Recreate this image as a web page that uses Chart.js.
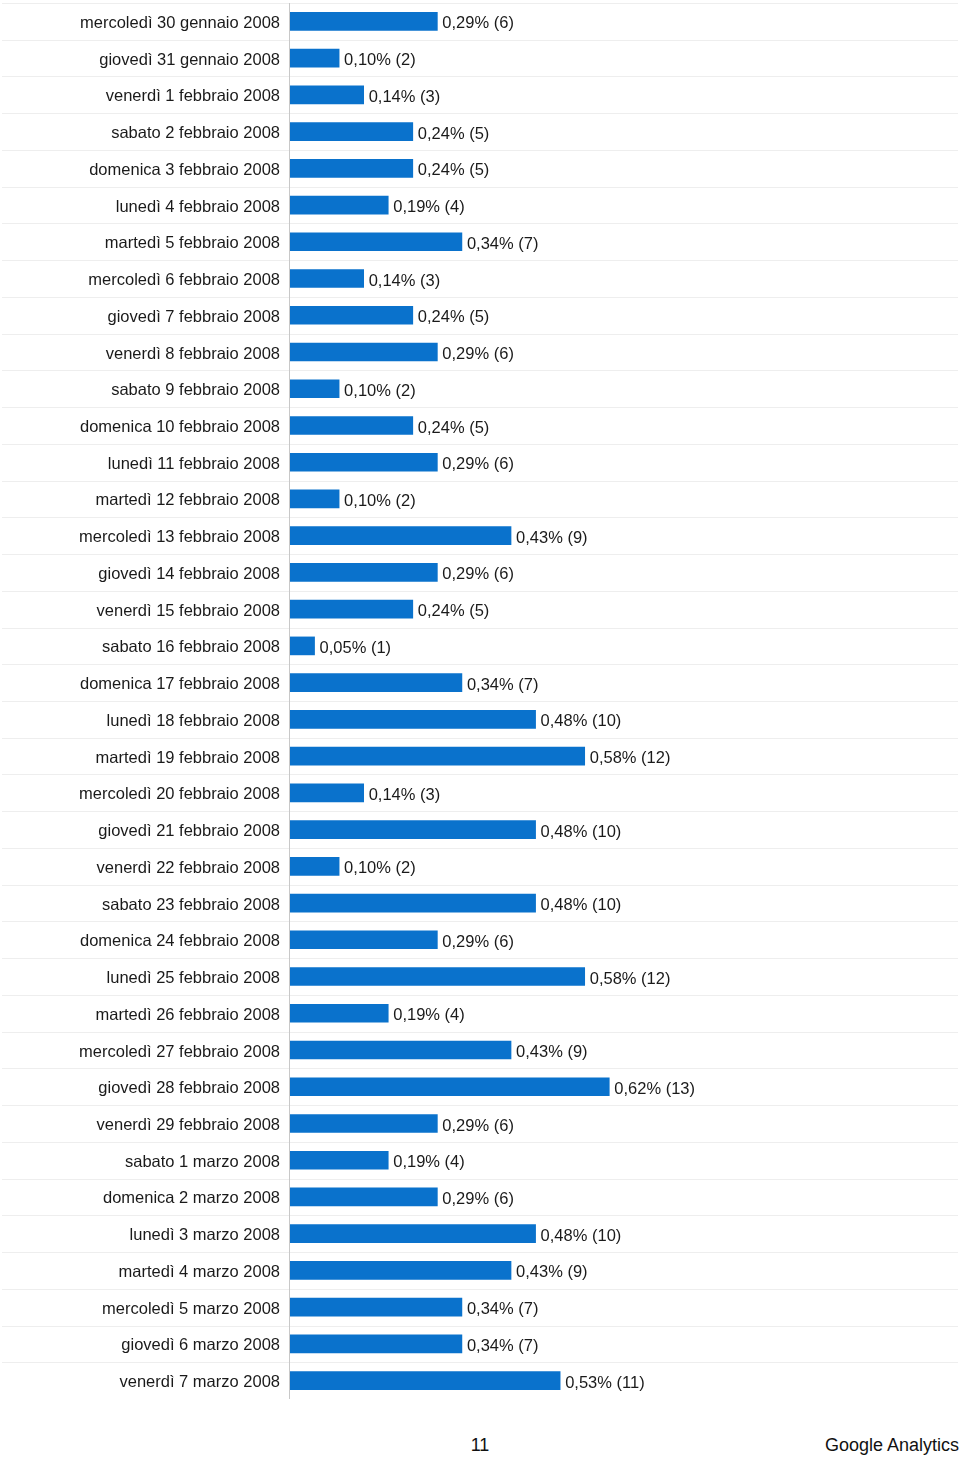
<!DOCTYPE html>
<html>
<head>
<meta charset="utf-8">
<script src="https://cdn.jsdelivr.net/npm/chart.js@4/dist/chart.umd.min.js"></script>
<style>
html,body{margin:0;padding:0;background:#fff;}
body{width:960px;height:1458px;position:relative;overflow:hidden;font-family:"Liberation Sans",Arial,sans-serif;}
#wrap{position:absolute;left:0;top:0;width:960px;height:1402px;}
.foot{position:absolute;top:1433px;font-size:18px;color:#111;line-height:24px;}
</style>
</head>
<body>
<div id="wrap"><canvas id="c"></canvas></div>
<div class="foot" style="left:460px;width:40px;text-align:center;">11</div>
<div class="foot" style="right:1px;">Google Analytics</div>
<script>
const categories = [
"mercoledì 30 gennaio 2008","giovedì 31 gennaio 2008","venerdì 1 febbraio 2008","sabato 2 febbraio 2008",
"domenica 3 febbraio 2008","lunedì 4 febbraio 2008","martedì 5 febbraio 2008","mercoledì 6 febbraio 2008",
"giovedì 7 febbraio 2008","venerdì 8 febbraio 2008","sabato 9 febbraio 2008","domenica 10 febbraio 2008",
"lunedì 11 febbraio 2008","martedì 12 febbraio 2008","mercoledì 13 febbraio 2008","giovedì 14 febbraio 2008",
"venerdì 15 febbraio 2008","sabato 16 febbraio 2008","domenica 17 febbraio 2008","lunedì 18 febbraio 2008",
"martedì 19 febbraio 2008","mercoledì 20 febbraio 2008","giovedì 21 febbraio 2008","venerdì 22 febbraio 2008",
"sabato 23 febbraio 2008","domenica 24 febbraio 2008","lunedì 25 febbraio 2008","martedì 26 febbraio 2008",
"mercoledì 27 febbraio 2008","giovedì 28 febbraio 2008","venerdì 29 febbraio 2008","sabato 1 marzo 2008",
"domenica 2 marzo 2008","lunedì 3 marzo 2008","martedì 4 marzo 2008","mercoledì 5 marzo 2008",
"giovedì 6 marzo 2008","venerdì 7 marzo 2008"
];
const counts = [6,2,3,5,5,4,7,3,5,6,2,5,6,2,9,6,5,1,7,10,12,3,10,2,10,6,12,4,9,13,6,4,6,10,9,7,7,11];
const percents = [0.29,0.10,0.14,0.24,0.24,0.19,0.34,0.14,0.24,0.29,0.10,0.24,0.29,0.10,0.43,0.29,0.24,0.05,0.34,0.48,
0.58,0.14,0.48,0.10,0.48,0.29,0.58,0.19,0.43,0.62,0.29,0.19,0.29,0.48,0.43,0.34,0.34,0.53];

const FONT = '"Liberation Sans", Arial, sans-serif';

const decor = {
  id: 'decor',
  beforeDatasetsDraw(chart) {
    const ctx = chart.ctx, y = chart.scales.y, a = chart.chartArea;
    ctx.save();
    ctx.strokeStyle = '#eeeeee';
    ctx.lineWidth = 1;
    const n = categories.length;
    const step = (a.bottom - a.top) / n;
    for (let i = 0; i < n; i++) {
      const yy = Math.round(y.getPixelForValue(i) - step / 2) + 0.5;
      ctx.beginPath(); ctx.moveTo(2, yy); ctx.lineTo(958, yy); ctx.stroke();
    }
    ctx.strokeStyle = '#c8c8c8';
    ctx.beginPath(); ctx.moveTo(a.left - 0.5, a.top); ctx.lineTo(a.left - 0.5, a.bottom); ctx.stroke();
    // category labels
    ctx.font = '16.5px ' + FONT;
    ctx.fillStyle = '#1a1a1a';
    ctx.textAlign = 'right';
    ctx.textBaseline = 'middle';
    categories.forEach((lab, i) => {
      ctx.fillText(lab, a.left - 10, y.getPixelForValue(i) + 2);
    });
    ctx.restore();
  },
  afterDatasetsDraw(chart) {
    const ctx = chart.ctx, meta = chart.getDatasetMeta(0);
    ctx.save();
    ctx.font = '16.5px ' + FONT;
    ctx.fillStyle = '#1a1a1a';
    ctx.textAlign = 'left';
    ctx.textBaseline = 'middle';
    meta.data.forEach((bar, i) => {
      const txt = percents[i].toFixed(2).replace('.', ',') + '% (' + counts[i] + ')';
      ctx.fillText(txt, bar.x + 5, bar.y + 2.5);
    });
    ctx.restore();
  }
};

new Chart(document.getElementById('c'), {
  type: 'bar',
  data: {
    labels: categories,
    datasets: [{
      data: counts,
      backgroundColor: '#0a72cc',
      borderWidth: 0,
      barThickness: 18,
      categoryPercentage: 1
    }]
  },
  options: {
    indexAxis: 'y',
    responsive: true,
    maintainAspectRatio: false,
    animation: false,
    layout: { padding: { top: 3, bottom: 3, left: 0, right: 2 } },
    plugins: { legend: { display: false }, tooltip: { enabled: false } },
    scales: {
      x: {
        display: false,
        min: 0,
        max: 27.2
      },
      y: {
        offset: true,
        grid: { display: false, drawTicks: false },
        border: { display: false },
        afterFit(scale) { scale.width = 290; scale.paddingTop = 0; scale.paddingBottom = 0; },
        ticks: { display: false, autoSkip: false }
      }
    }
  },
  plugins: [decor]
});
</script>
</body>
</html>
